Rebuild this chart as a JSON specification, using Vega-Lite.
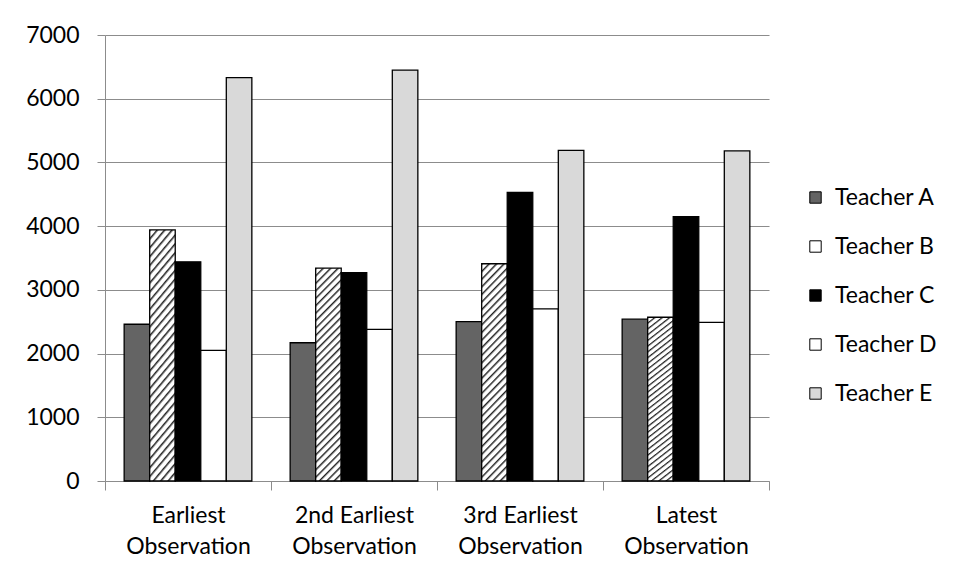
{
  "$schema": "https://vega.github.io/schema/vega-lite/v6.json",
  "width": 664,
  "height": 446,
  "autosize": {"type": "none"},
  "padding": {"left": 105, "top": 35, "right": 190, "bottom": 98},
  "background": "white",
  "config": {
    "view": {"stroke": null},
    "font": "Lato",
    "axis": {"labelFont": "Lato", "labelColor": "black", "labelFontSize": 23},
    "legend": {"labelFont": "Lato", "labelColor": "black", "labelFontSize": 23}
  },
  "data": {
    "values": [
      {"observation": "Earliest Observation", "teacher": "Teacher A", "value": 2460},
      {"observation": "Earliest Observation", "teacher": "Teacher B", "value": 3940},
      {"observation": "Earliest Observation", "teacher": "Teacher C", "value": 3440},
      {"observation": "Earliest Observation", "teacher": "Teacher D", "value": 2050},
      {"observation": "Earliest Observation", "teacher": "Teacher E", "value": 6330},
      {"observation": "2nd Earliest Observation", "teacher": "Teacher A", "value": 2170},
      {"observation": "2nd Earliest Observation", "teacher": "Teacher B", "value": 3340},
      {"observation": "2nd Earliest Observation", "teacher": "Teacher C", "value": 3270},
      {"observation": "2nd Earliest Observation", "teacher": "Teacher D", "value": 2380},
      {"observation": "2nd Earliest Observation", "teacher": "Teacher E", "value": 6450},
      {"observation": "3rd Earliest Observation", "teacher": "Teacher A", "value": 2500},
      {"observation": "3rd Earliest Observation", "teacher": "Teacher B", "value": 3410},
      {"observation": "3rd Earliest Observation", "teacher": "Teacher C", "value": 4530},
      {"observation": "3rd Earliest Observation", "teacher": "Teacher D", "value": 2700},
      {"observation": "3rd Earliest Observation", "teacher": "Teacher E", "value": 5190},
      {"observation": "Latest Observation", "teacher": "Teacher A", "value": 2540},
      {"observation": "Latest Observation", "teacher": "Teacher B", "value": 2570},
      {"observation": "Latest Observation", "teacher": "Teacher C", "value": 4150},
      {"observation": "Latest Observation", "teacher": "Teacher D", "value": 2490},
      {"observation": "Latest Observation", "teacher": "Teacher E", "value": 5180}
    ]
  },
  "mark": {"type": "bar", "stroke": "black", "strokeWidth": 1.3},
  "encoding": {
    "x": {
      "field": "observation",
      "type": "nominal",
      "sort": null,
      "scale": {"paddingInner": 0, "paddingOuter": 0},
      "axis": {
        "title": null,
        "labelAngle": 0,
        "tickBand": "extent",
        "tickSize": 9,
        "tickColor": "#8c8c8c",
        "domainColor": "#8c8c8c",
        "labelPadding": 14,
        "labelLineHeight": 31,
        "labelExpr": "[slice(datum.label, 0, lastindexof(datum.label, ' ')), slice(datum.label, lastindexof(datum.label, ' ') + 1)]"
      }
    },
    "xOffset": {
      "field": "teacher",
      "type": "nominal",
      "sort": null,
      "scale": {"paddingInner": 0, "paddingOuter": 0.75}
    },
    "y": {
      "field": "value",
      "type": "quantitative",
      "scale": {"domain": [0, 7000], "nice": false},
      "axis": {
        "title": null,
        "values": [0, 1000, 2000, 3000, 4000, 5000, 6000, 7000],
        "format": "d",
        "tickSize": 8,
        "tickColor": "#8c8c8c",
        "domainColor": "#8c8c8c",
        "grid": true,
        "gridColor": "#8c8c8c",
        "gridWidth": 1.2,
        "labelPadding": 18
      }
    },
    "fill": {
      "field": "teacher",
      "type": "nominal",
      "sort": null,
      "scale": {
        "domain": ["Teacher A", "Teacher B", "Teacher C", "Teacher D", "Teacher E"],
        "range": ["#646464", "#ffffff", "#000000", "#ffffff", "#d9d9d9"]
      },
      "condition": {
        "test": "datum.teacher === 'Teacher B'",
        "value": {
          "gradient": "linear",
          "x1": 0, "y1": 0, "x2": 0.134, "y2": 1.105,
          "stops": [
            {"offset": 0, "color": "#222"}, {"offset": 0.011, "color": "#fff"}, {"offset": 0.025, "color": "#fff"},
            {"offset": 0.031, "color": "#222"}, {"offset": 0.042, "color": "#fff"}, {"offset": 0.056, "color": "#fff"},
            {"offset": 0.0625, "color": "#222"}, {"offset": 0.0735, "color": "#fff"}, {"offset": 0.0875, "color": "#fff"},
            {"offset": 0.094, "color": "#222"}, {"offset": 0.105, "color": "#fff"}, {"offset": 0.119, "color": "#fff"},
            {"offset": 0.125, "color": "#222"}, {"offset": 0.136, "color": "#fff"}, {"offset": 0.15, "color": "#fff"},
            {"offset": 0.156, "color": "#222"}, {"offset": 0.167, "color": "#fff"}, {"offset": 0.181, "color": "#fff"},
            {"offset": 0.1875, "color": "#222"}, {"offset": 0.1985, "color": "#fff"}, {"offset": 0.2125, "color": "#fff"},
            {"offset": 0.219, "color": "#222"}, {"offset": 0.23, "color": "#fff"}, {"offset": 0.244, "color": "#fff"},
            {"offset": 0.25, "color": "#222"}, {"offset": 0.261, "color": "#fff"}, {"offset": 0.275, "color": "#fff"},
            {"offset": 0.281, "color": "#222"}, {"offset": 0.292, "color": "#fff"}, {"offset": 0.306, "color": "#fff"},
            {"offset": 0.3125, "color": "#222"}, {"offset": 0.3235, "color": "#fff"}, {"offset": 0.3375, "color": "#fff"},
            {"offset": 0.344, "color": "#222"}, {"offset": 0.355, "color": "#fff"}, {"offset": 0.369, "color": "#fff"},
            {"offset": 0.375, "color": "#222"}, {"offset": 0.386, "color": "#fff"}, {"offset": 0.4, "color": "#fff"},
            {"offset": 0.406, "color": "#222"}, {"offset": 0.417, "color": "#fff"}, {"offset": 0.431, "color": "#fff"},
            {"offset": 0.4375, "color": "#222"}, {"offset": 0.4485, "color": "#fff"}, {"offset": 0.4625, "color": "#fff"},
            {"offset": 0.469, "color": "#222"}, {"offset": 0.48, "color": "#fff"}, {"offset": 0.494, "color": "#fff"},
            {"offset": 0.5, "color": "#222"}, {"offset": 0.511, "color": "#fff"}, {"offset": 0.525, "color": "#fff"},
            {"offset": 0.531, "color": "#222"}, {"offset": 0.542, "color": "#fff"}, {"offset": 0.556, "color": "#fff"},
            {"offset": 0.5625, "color": "#222"}, {"offset": 0.5735, "color": "#fff"}, {"offset": 0.5875, "color": "#fff"},
            {"offset": 0.594, "color": "#222"}, {"offset": 0.605, "color": "#fff"}, {"offset": 0.619, "color": "#fff"},
            {"offset": 0.625, "color": "#222"}, {"offset": 0.636, "color": "#fff"}, {"offset": 0.65, "color": "#fff"},
            {"offset": 0.656, "color": "#222"}, {"offset": 0.667, "color": "#fff"}, {"offset": 0.681, "color": "#fff"},
            {"offset": 0.6875, "color": "#222"}, {"offset": 0.6985, "color": "#fff"}, {"offset": 0.7125, "color": "#fff"},
            {"offset": 0.719, "color": "#222"}, {"offset": 0.73, "color": "#fff"}, {"offset": 0.744, "color": "#fff"},
            {"offset": 0.75, "color": "#222"}, {"offset": 0.761, "color": "#fff"}, {"offset": 0.775, "color": "#fff"},
            {"offset": 0.781, "color": "#222"}, {"offset": 0.792, "color": "#fff"}, {"offset": 0.806, "color": "#fff"},
            {"offset": 0.8125, "color": "#222"}, {"offset": 0.8235, "color": "#fff"}, {"offset": 0.8375, "color": "#fff"},
            {"offset": 0.844, "color": "#222"}, {"offset": 0.855, "color": "#fff"}, {"offset": 0.869, "color": "#fff"},
            {"offset": 0.875, "color": "#222"}, {"offset": 0.886, "color": "#fff"}, {"offset": 0.9, "color": "#fff"},
            {"offset": 0.906, "color": "#222"}, {"offset": 0.917, "color": "#fff"}, {"offset": 0.931, "color": "#fff"},
            {"offset": 0.9375, "color": "#222"}, {"offset": 0.9485, "color": "#fff"}, {"offset": 0.9625, "color": "#fff"},
            {"offset": 0.969, "color": "#222"}, {"offset": 0.98, "color": "#fff"}, {"offset": 0.994, "color": "#fff"},
            {"offset": 1, "color": "#222"}
          ]
        }
      },
      "legend": {
        "title": null,
        "orient": "none",
        "legendX": 699,
        "legendY": 151,
        "symbolType": "square",
        "symbolSize": 130,
        "symbolStrokeColor": "black",
        "symbolStrokeWidth": 1,
        "symbolOpacity": 1,
        "labelOffset": 8,
        "rowPadding": 25
      }
    }
  }
}
